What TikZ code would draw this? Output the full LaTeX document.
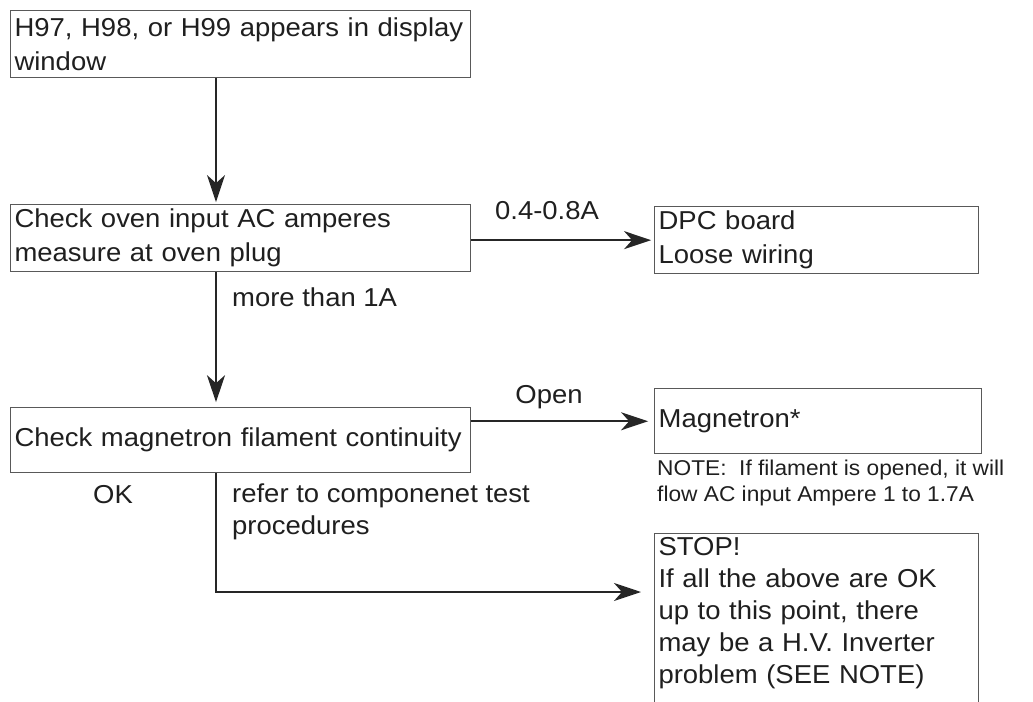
\documentclass[tikz,border=0pt]{standalone}
\usepackage{fontspec}
\setmainfont{Liberation Sans}[FakeStretch=1.06]
\usetikzlibrary{arrows.meta,positioning}

\begin{document}
\begin{tikzpicture}[
  x=1bp, y=-1bp,
  font=\fontsize{26}{34}\selectfont,
  text=black!88,
  box/.style={draw=black!65, line width=1.1bp, align=left, inner xsep=4bp, inner ysep=4bp},
  lbl/.style={inner sep=0pt},
  note/.style={inner sep=0pt, align=left, font=\fontsize{21.5}{26}\selectfont},
  ar/.style={-{Stealth[length=27bp,width=18bp,inset=8bp]}, line width=2.2bp, black!85}
]
\useasboundingbox (0,0) rectangle (1033,702);
\clip (0,0) rectangle (1033,702);

\node[box, anchor=north west, text width=452bp, minimum height=67bp] (c1) at (10,10) {H97, H98, or H99 appears in display\\window};
\node[box, below=126bp of c1, text width=452bp, minimum height=67bp] (c2) {Check oven input AC amperes\\measure at oven plug};
\node[box, below=135bp of c2, text width=452bp, minimum height=65bp] (c3) {Check magnetron filament continuity};

\node[box, right=183bp of c2, yshift=-2bp, text width=316bp, minimum height=67bp] (r1) {DPC board\\Loose wiring};
\node[box, right=183bp of c3, yshift=19bp, text width=319bp, minimum height=65bp] (r2) {Magnetron*};
\node[box, anchor=north west, text width=316bp, font=\fontsize{26}{32}\selectfont] (r3) at (654,533) {STOP!\\If all the above are OK\\up to this point, there\\may be a H.V. Inverter\\problem (SEE NOTE)\\\mbox{}};

\node[lbl, anchor=base] (l1) at (547,219) {0.4-0.8A};
\node[lbl, anchor=base west] (l2) at (232,306) {more than 1A};
\node[lbl, anchor=base] (l3) at (549,403) {Open};
\node[note, anchor=north west] (n1) at (657,460) {NOTE:\ \ If filament is opened, it will\\flow AC input Ampere 1 to 1.7A};
\node[lbl, anchor=base] (l4) at (113,503) {OK};
\node[lbl, anchor=north west, align=left, font=\fontsize{26}{32}\selectfont] (l5) at (232,484) {refer to componenet test\\procedures};

\coordinate (tr) at (216,592);

\draw[ar, shorten >=2bp] (c1.south -| tr) -- (c2.north -| tr);
\draw[ar, shorten >=3bp] (c2.east |- r1.west) -- (r1.west);
\draw[ar, shorten >=5bp] (c2.south -| tr) -- (c3.north -| tr);
\draw[ar, shorten >=6bp] (c3.east |- r2.west) -- (r2.west);
\draw[ar, shorten >=13bp] (c3.south -| tr) |- (tr -| r3.west);

\end{tikzpicture}
\end{document}
